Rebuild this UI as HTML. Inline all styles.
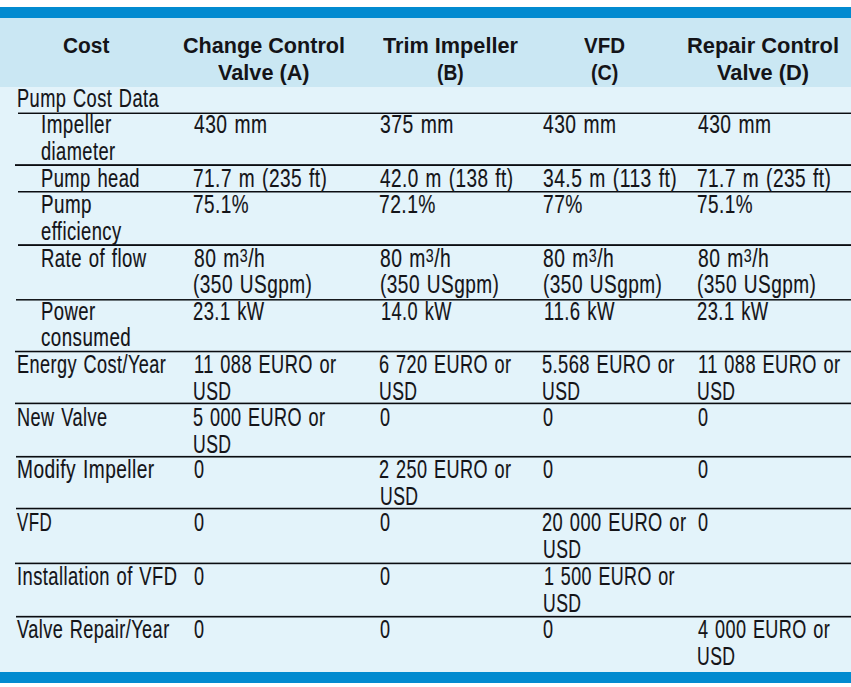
<!DOCTYPE html>
<html><head><meta charset="utf-8"><title>Pump cost comparison</title>
<style>
html,body{margin:0;padding:0;background:#fff;}
body{width:851px;height:687px;position:relative;overflow:hidden;}
.bar{position:absolute;left:0;width:851px;background:#028bd0;}
.bg{position:absolute;left:0;width:851px;}
.t,.h{position:absolute;white-space:nowrap;font-family:"Liberation Sans", sans-serif;color:#141418;transform-origin:0 0;}
.t{font-size:25.0px;line-height:25.0px;-webkit-text-stroke:0.15px #141418;letter-spacing:0.6px;word-spacing:1.5px;}
.h{font-size:22.0px;line-height:22.0px;font-weight:bold;}
sup{font-size:0.74em;line-height:0;vertical-align:5.5px;}
.ln{position:absolute;left:0;right:0;height:1px;}
</style></head><body>

<div class="bar" style="top:7px;height:11px"></div>
<div class="bg" style="top:18px;height:69px;background:#cae7f3"></div>
<div class="bg" style="top:87px;height:585px;background:#e3f3fa"></div>
<div class="bar" style="top:672px;height:11px"></div>
<div class="ln" style="top:112px;left:18px;background:rgba(10,12,16,0.45)"></div>
<div class="ln" style="top:113px;left:18px;background:rgba(10,12,16,1.00)"></div>
<div class="ln" style="top:164px;left:15px;background:rgba(10,12,16,0.85)"></div>
<div class="ln" style="top:165px;left:15px;background:rgba(10,12,16,1.00)"></div>
<div class="ln" style="top:191px;left:18px;background:rgba(10,12,16,1.00)"></div>
<div class="ln" style="top:192px;left:18px;background:rgba(10,12,16,0.50)"></div>
<div class="ln" style="top:244px;left:18px;background:rgba(10,12,16,0.85)"></div>
<div class="ln" style="top:245px;left:18px;background:rgba(10,12,16,1.00)"></div>
<div class="ln" style="top:299px;left:16px;background:rgba(10,12,16,0.95)"></div>
<div class="ln" style="top:300px;left:16px;background:rgba(10,12,16,0.55)"></div>
<div class="ln" style="top:350px;left:15px;background:rgba(10,12,16,0.25)"></div>
<div class="ln" style="top:351px;left:15px;background:rgba(10,12,16,1.00)"></div>
<div class="ln" style="top:352px;left:15px;background:rgba(10,12,16,0.30)"></div>
<div class="ln" style="top:402px;left:15px;background:rgba(10,12,16,0.40)"></div>
<div class="ln" style="top:403px;left:15px;background:rgba(10,12,16,1.00)"></div>
<div class="ln" style="top:404px;left:15px;background:rgba(10,12,16,0.20)"></div>
<div class="ln" style="top:455px;left:16px;background:rgba(10,12,16,0.10)"></div>
<div class="ln" style="top:456px;left:16px;background:rgba(10,12,16,1.00)"></div>
<div class="ln" style="top:457px;left:16px;background:rgba(10,12,16,0.55)"></div>
<div class="ln" style="top:507px;left:16px;background:rgba(10,12,16,0.25)"></div>
<div class="ln" style="top:508px;left:16px;background:rgba(10,12,16,1.00)"></div>
<div class="ln" style="top:509px;left:16px;background:rgba(10,12,16,0.35)"></div>
<div class="ln" style="top:562px;left:15px;background:rgba(10,12,16,0.40)"></div>
<div class="ln" style="top:563px;left:15px;background:rgba(10,12,16,1.00)"></div>
<div class="ln" style="top:564px;left:15px;background:rgba(10,12,16,0.20)"></div>
<div class="ln" style="top:615px;left:16px;background:rgba(10,12,16,0.15)"></div>
<div class="ln" style="top:616px;left:16px;background:rgba(10,12,16,1.00)"></div>
<div class="ln" style="top:617px;left:16px;background:rgba(10,12,16,0.50)"></div>
<div class="h" style="left:62.50px;top:35px;transform:scaleX(0.9490)">Cost</div>
<div class="h" style="left:183.00px;top:35px;transform:scaleX(0.9818)">Change Control</div>
<div class="h" style="left:218.20px;top:62px;transform:scaleX(0.9849)">Valve (A)</div>
<div class="h" style="left:383.00px;top:35px;transform:scaleX(0.9855)">Trim Impeller</div>
<div class="h" style="left:436.50px;top:62px;transform:scaleX(0.8733)">(B)</div>
<div class="h" style="left:584.00px;top:35px;transform:scaleX(0.9318)">VFD</div>
<div class="h" style="left:590.90px;top:62px;transform:scaleX(0.8967)">(C)</div>
<div class="h" style="left:687.10px;top:35px;transform:scaleX(0.9954)">Repair Control</div>
<div class="h" style="left:717.20px;top:62px;transform:scaleX(0.9903)">Valve (D)</div>
<div class="t" style="left:17.27px;top:86px;transform:scaleX(0.7294)">Pump Cost Data</div>
<div class="t" style="left:40.95px;top:112px;transform:scaleX(0.7543)">Impeller</div>
<div class="t" style="left:41.30px;top:139px;transform:scaleX(0.7304)">diameter</div>
<div class="t" style="left:40.97px;top:166px;transform:scaleX(0.7346)">Pump head</div>
<div class="t" style="left:40.95px;top:192px;transform:scaleX(0.7530)">Pump</div>
<div class="t" style="left:41.30px;top:219px;transform:scaleX(0.7345)">efficiency</div>
<div class="t" style="left:40.96px;top:246px;transform:scaleX(0.7426)">Rate of flow</div>
<div class="t" style="left:40.96px;top:299px;transform:scaleX(0.7397)">Power</div>
<div class="t" style="left:41.30px;top:325px;transform:scaleX(0.7504)">consumed</div>
<div class="t" style="left:17.28px;top:352px;transform:scaleX(0.7244)">Energy Cost/Year</div>
<div class="t" style="left:17.27px;top:405px;transform:scaleX(0.7260)">New Valve</div>
<div class="t" style="left:17.24px;top:457px;transform:scaleX(0.7648)">Modify Impeller</div>
<div class="t" style="left:17.40px;top:510px;transform:scaleX(0.6765)">VFD</div>
<div class="t" style="left:17.27px;top:564px;transform:scaleX(0.7332)">Installation of VFD</div>
<div class="t" style="left:17.40px;top:617px;transform:scaleX(0.7252)">Valve Repair/Year</div>
<div class="t" style="left:193.50px;top:112px;transform:scaleX(0.7695)">430 mm</div>
<div class="t" style="left:380.00px;top:112px;transform:scaleX(0.7745)">375 mm</div>
<div class="t" style="left:543.00px;top:112px;transform:scaleX(0.7695)">430 mm</div>
<div class="t" style="left:697.60px;top:112px;transform:scaleX(0.7695)">430 mm</div>
<div class="t" style="left:193.14px;top:166px;transform:scaleX(0.7626)">71.7 m (235 ft)</div>
<div class="t" style="left:380.00px;top:166px;transform:scaleX(0.7583)">42.0 m (138 ft)</div>
<div class="t" style="left:543.00px;top:166px;transform:scaleX(0.7705)">34.5 m (113 ft)</div>
<div class="t" style="left:697.24px;top:166px;transform:scaleX(0.7626)">71.7 m (235 ft)</div>
<div class="t" style="left:193.14px;top:192px;transform:scaleX(0.7569)">75.1%</div>
<div class="t" style="left:379.23px;top:192px;transform:scaleX(0.7708)">72.1%</div>
<div class="t" style="left:542.73px;top:192px;transform:scaleX(0.7700)">77%</div>
<div class="t" style="left:697.24px;top:192px;transform:scaleX(0.7569)">75.1%</div>
<div class="t" style="left:193.50px;top:246px;transform:scaleX(0.7703)">80 m<sup>3</sup>/h</div>
<div class="t" style="left:193.14px;top:272px;transform:scaleX(0.7615)">(350 USgpm)</div>
<div class="t" style="left:380.00px;top:246px;transform:scaleX(0.7703)">80 m<sup>3</sup>/h</div>
<div class="t" style="left:379.64px;top:272px;transform:scaleX(0.7615)">(350 USgpm)</div>
<div class="t" style="left:543.00px;top:246px;transform:scaleX(0.7703)">80 m<sup>3</sup>/h</div>
<div class="t" style="left:542.64px;top:272px;transform:scaleX(0.7615)">(350 USgpm)</div>
<div class="t" style="left:697.60px;top:246px;transform:scaleX(0.7703)">80 m<sup>3</sup>/h</div>
<div class="t" style="left:697.24px;top:272px;transform:scaleX(0.7615)">(350 USgpm)</div>
<div class="t" style="left:192.76px;top:299px;transform:scaleX(0.7354)">23.1 kW</div>
<div class="t" style="left:380.77px;top:299px;transform:scaleX(0.7271)">14.0 kW</div>
<div class="t" style="left:543.76px;top:299px;transform:scaleX(0.7426)">11.6 kW</div>
<div class="t" style="left:696.86px;top:299px;transform:scaleX(0.7354)">23.1 kW</div>
<div class="t" style="left:193.77px;top:352px;transform:scaleX(0.7272)">11 088 EURO or</div>
<div class="t" style="left:193.20px;top:379px;transform:scaleX(0.7038)">USD</div>
<div class="t" style="left:379.28px;top:352px;transform:scaleX(0.7231)">6 720 EURO or</div>
<div class="t" style="left:379.30px;top:379px;transform:scaleX(0.7038)">USD</div>
<div class="t" style="left:542.27px;top:352px;transform:scaleX(0.7311)">5.568 EURO or</div>
<div class="t" style="left:542.30px;top:379px;transform:scaleX(0.7038)">USD</div>
<div class="t" style="left:697.87px;top:352px;transform:scaleX(0.7272)">11 088 EURO or</div>
<div class="t" style="left:697.30px;top:379px;transform:scaleX(0.7038)">USD</div>
<div class="t" style="left:192.78px;top:405px;transform:scaleX(0.7225)">5 000 EURO or</div>
<div class="t" style="left:193.20px;top:432px;transform:scaleX(0.7038)">USD</div>
<div class="t" style="left:380.00px;top:405px;transform:scaleX(0.7214)">0</div>
<div class="t" style="left:543.00px;top:405px;transform:scaleX(0.7214)">0</div>
<div class="t" style="left:697.60px;top:405px;transform:scaleX(0.7214)">0</div>
<div class="t" style="left:193.50px;top:457px;transform:scaleX(0.7214)">0</div>
<div class="t" style="left:379.28px;top:457px;transform:scaleX(0.7231)">2 250 EURO or</div>
<div class="t" style="left:379.70px;top:484px;transform:scaleX(0.7038)">USD</div>
<div class="t" style="left:543.00px;top:457px;transform:scaleX(0.7214)">0</div>
<div class="t" style="left:697.60px;top:457px;transform:scaleX(0.7214)">0</div>
<div class="t" style="left:193.50px;top:510px;transform:scaleX(0.7214)">0</div>
<div class="t" style="left:380.00px;top:510px;transform:scaleX(0.7214)">0</div>
<div class="t" style="left:697.60px;top:510px;transform:scaleX(0.7214)">0</div>
<div class="t" style="left:542.27px;top:510px;transform:scaleX(0.7306)">20 000 EURO or</div>
<div class="t" style="left:542.70px;top:537px;transform:scaleX(0.7038)">USD</div>
<div class="t" style="left:193.50px;top:564px;transform:scaleX(0.7214)">0</div>
<div class="t" style="left:380.00px;top:564px;transform:scaleX(0.7214)">0</div>
<div class="t" style="left:543.79px;top:564px;transform:scaleX(0.7148)">1 500 EURO or</div>
<div class="t" style="left:542.70px;top:591px;transform:scaleX(0.7038)">USD</div>
<div class="t" style="left:193.50px;top:617px;transform:scaleX(0.7214)">0</div>
<div class="t" style="left:380.00px;top:617px;transform:scaleX(0.7214)">0</div>
<div class="t" style="left:543.00px;top:617px;transform:scaleX(0.7214)">0</div>
<div class="t" style="left:697.60px;top:617px;transform:scaleX(0.7213)">4 000 EURO or</div>
<div class="t" style="left:697.30px;top:644px;transform:scaleX(0.7038)">USD</div>
</body></html>
